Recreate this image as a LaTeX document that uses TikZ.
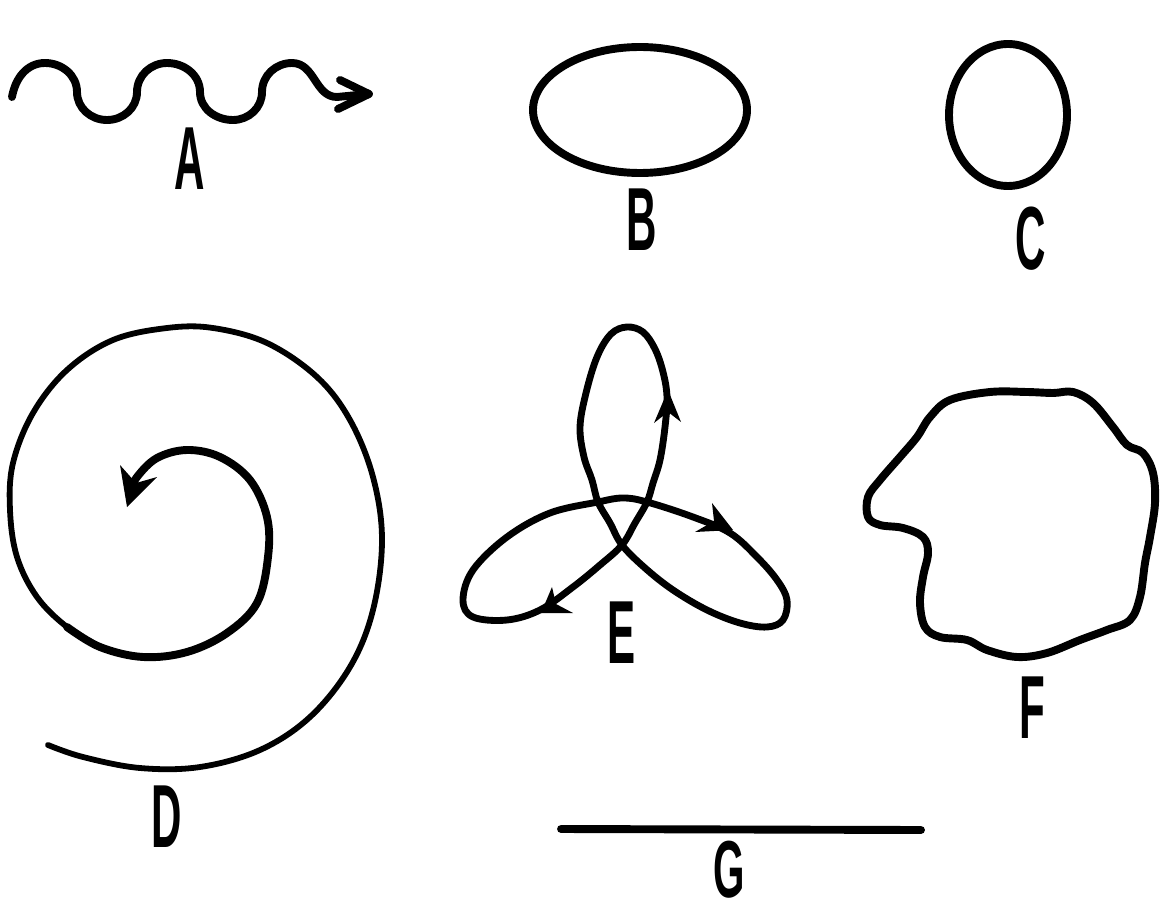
\documentclass[tikz,border=0pt]{standalone}
\usepackage{fontspec}
\setmainfont{Liberation Sans}
\begin{document}
\begin{tikzpicture}[x=0.02cm,y=-0.02cm,line cap=round,line join=round,
  heavy/.style={line width=4.5pt},
  medium/.style={line width=3.9pt},
  light/.style={line width=3.3pt},
  lbl/.style={font=\fontsize{51pt}{51pt}\selectfont\bfseries,inner sep=0pt,anchor=base}]
\useasboundingbox (0,0) rectangle (1162,912);

% A : wave with arrow
\draw[heavy] (12,97) to[out=80,in=180] (45,63) to[out=0,in=90] (77,92)
  to[out=-90,in=180] (107,120) to[out=0,in=-90] (137,92)
  to[out=90,in=180] (167,63) to[out=0,in=90] (200,92)
  to[out=-90,in=180] (233,120) to[out=0,in=-90] (262,92)
  to[out=90,in=180] (292,63) .. controls (315,63) and (315,97) .. (337,97) -- (368,94);
\draw[heavy] (340,80) -- (369,94) -- (338,109);
\node[lbl] (la) at (190,190) {\scalebox{0.47}[1]{A}};

% B : ellipse
\draw[heavy] (640,110) ellipse [x radius=107, y radius=63];
\node[lbl] (lb) at (642,250) {\scalebox{0.47}[1]{B}};

% C : circle
\draw[heavy] (1008,115) ellipse [x radius=59, y radius=71];
\node[lbl] (lc) at (1031,269) {\scalebox{0.47}[1]{C}};

% D : spiral
\draw[light] plot[smooth,tension=0.6] coordinates {
  (48,745) (83,757) (140,768) (200,767) (260,750) (310,717) (350,667)
  (373,610) (382,540) (373,477) (350,420) (317,377) (267,343) (213,328)
  (167,328) (113,340) (67,370) (33,413) (13,463) (10,510) (17,557)
  (37,597) (67,627) (100,647)};
\draw[heavy] plot[smooth,tension=0.6] coordinates {
  (67,627) (100,647) (143,657) (187,652) (227,633) (257,603) (268,557)
  (267,517) (250,480) (220,457) (187,450) (157,458) (137,477) (130,492)};
\fill (127,507) -- (120,465) -- (136,483) -- (157,477) -- cycle;
\node[lbl] (ld) at (167,847) {\scalebox{0.47}[1]{D}};

% E : trefoil
\draw[medium] plot[smooth cycle,tension=0.6] coordinates {
  (622,545) (645,568) (673,590) (707,610) (740,623) (767,627) (783,620)
  (787,600) (777,580) (757,557) (730,533) (693,517) (647,502) (623,498)
  (598,502) (550,513) (507,537) (473,570) (463,600) (473,617) (507,620)
  (540,610) (573,587) (600,565) (622,545) (635,523) (647,502) (653,483)
  (660,460) (665,427) (667,397) (663,372) (655,349) (643,332) (627,327)
  (611,334) (597,357) (586,393) (580,427) (584,457) (592,480) (598,502)
  (610,523)};
\fill (668,390) -- (681,422) -- (668,412) -- (654,423) -- cycle;
\fill (733,530) -- (712,503) -- (714,521) -- (695,532) -- cycle;
\fill (541,613) -- (552,587) -- (556,604) -- (573,613) -- cycle;
\node[lbl] (le) at (622,663) {\scalebox{0.47}[1]{E}};

% F : irregular blob
\draw[heavy] plot[smooth cycle,tension=0.6] coordinates {
  (930,417) (950,400) (990,392) (1027,392) (1053,393) (1073,392)
  (1093,403) (1113,427) (1127,445) (1143,453) (1153,473) (1155,503)
  (1150,537) (1145,563) (1140,597) (1130,620) (1107,630) (1080,640)
  (1047,653) (1017,657) (987,650) (967,640) (940,637) (925,627)
  (920,603) (923,577) (928,553) (923,537) (903,528) (880,525)
  (868,517) (868,497) (880,480) (900,457) (917,437)};
\node[lbl] (lf) at (1032,738) {\scalebox{0.47}[1]{F}};

% G : straight line
\coordinate (g1) at (561,829);
\coordinate (g2) at (921,830);
\draw[heavy] (g1) -- (g2);
\node[lbl,font=\fontsize{46pt}{46pt}\selectfont\bfseries] (lg) at (729,897) {\scalebox{0.5}[1]{G}};
\end{tikzpicture}
\end{document}
